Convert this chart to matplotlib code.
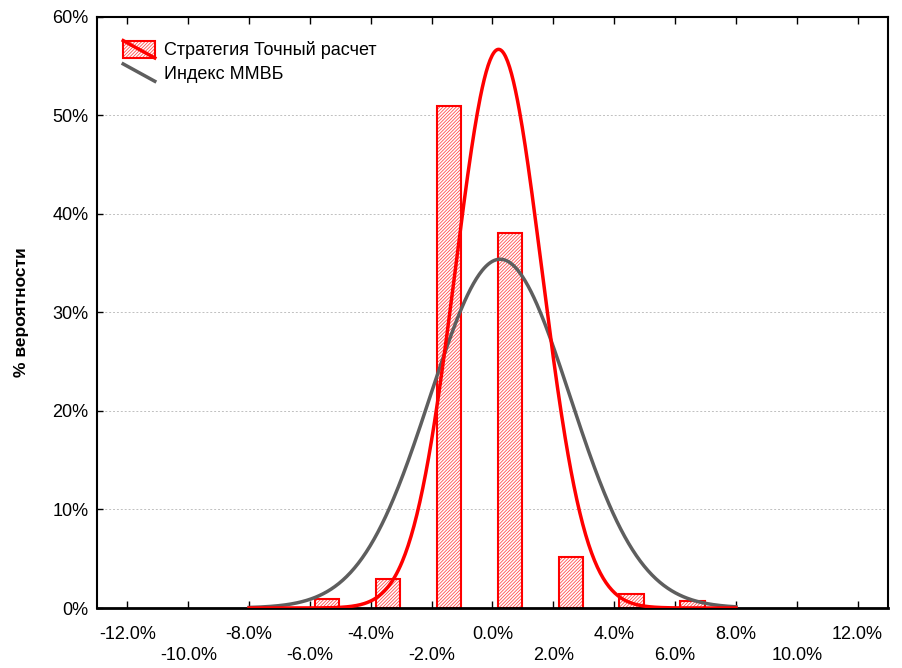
import numpy as np
import matplotlib
matplotlib.use('Agg')
import matplotlib.pyplot as plt
from matplotlib.legend_handler import HandlerBase
from matplotlib.lines import Line2D
from matplotlib.patches import Rectangle, Patch

plt.rcParams['font.family'] = ['Liberation Sans', 'DejaVu Sans']
plt.rcParams['hatch.linewidth'] = 0.6

# Гистограмма стратегии (центры интервалов, % и частоты, %)
centrosBarras = [-5.43, -3.43, -1.43, 0.57, 2.57, 4.57, 6.57]
alturasBarras = [0.95, 2.95, 50.9, 38.1, 5.2, 1.4, 0.75]
anchoBarra = 0.8

# Параметры нормальных кривых (среднее, ст. откл., пик)
estrategiaMedia, estrategiaSigma, estrategiaPico = 0.2, 1.42, 56.7
indiceMedia, indiceSigma, indicePico = 0.25, 2.3, 35.4
rangoCurva = (-8, 8)

ticksX = [-12, -10, -8, -6, -4, -2, 0, 2, 4, 6, 8, 10, 12]
ticksY = [0, 10, 20, 30, 40, 50, 60]

nombreEstrategia = 'Стратегия Точный расчет'
nombreIndice = 'Индекс ММВБ'
etiquetaY = '% вероятности'

rojo = '#ff0000'
rosa = '#ff5050'
gris = '#5e5e5e'
patron = '/' * 10


class HandlerDiagonal(HandlerBase):
    def __init__(self, color, conCaja=False):
        super().__init__()
        self.color = color
        self.conCaja = conCaja

    def create_artists(self, legend, orig_handle, xdescent, ydescent,
                       width, height, fontsize, trans):
        x0, x1 = -xdescent, width - xdescent
        y0, y1 = -ydescent, height - ydescent
        artistas = []
        if self.conCaja:
            artistas.append(Rectangle((x0, y0), width, height, facecolor='white',
                                      edgecolor=rosa, hatch=patron, lw=0,
                                      transform=trans))
            artistas.append(Rectangle((x0, y0), width, height, facecolor='none',
                                      edgecolor=rojo, lw=1.5, transform=trans))
        artistas.append(Line2D([x0, x1], [y1, y0], color=self.color, lw=2.5,
                               transform=trans))
        return artistas


def curva(media, sigma, pico, x):
    return pico * np.exp(-0.5 * ((x - media) / sigma) ** 2)


fig = plt.figure(figsize=(9.03, 6.68), dpi=100)
ax = fig.add_axes([0.1074, 0.0898, 0.876, 0.885])

ax.yaxis.grid(True, linestyle=(0, (2, 2)), color='#c0c0c0', lw=0.7)
ax.set_axisbelow(True)

# relleno rayado (color más claro) y contorno rojo
ax.bar(centrosBarras, alturasBarras, width=anchoBarra, facecolor='white',
       edgecolor=rosa, hatch=patron, lw=0, zorder=2)
ax.bar(centrosBarras, alturasBarras, width=anchoBarra, facecolor='none',
       edgecolor=rojo, lw=1.5, zorder=2)

xs = np.linspace(rangoCurva[0], rangoCurva[1], 500)
ax.plot(xs, curva(indiceMedia, indiceSigma, indicePico, xs), color=gris, lw=2.5, zorder=3)
ax.plot(xs, curva(estrategiaMedia, estrategiaSigma, estrategiaPico, xs), color=rojo, lw=2.5, zorder=4)

ax.set_xlim(-13, 13)
ax.set_ylim(0, 60)
ax.set_xticks(ticksX)
etiquetasX = []
for i, t in enumerate(ticksX):
    s = f'{t:.1f}%'
    etiquetasX.append(s if i % 2 == 0 else '\n' + s)
ax.set_xticklabels(etiquetasX, fontsize=13, linespacing=1.3)
ax.set_yticks(ticksY)
ax.set_yticklabels([f'{t}%' for t in ticksY], fontsize=13)
ax.tick_params(axis='x', direction='in', top=True, length=5, width=1, pad=13)
ax.tick_params(axis='y', direction='in', length=4, width=1, pad=6)
for lado in ['top', 'left', 'right']:
    ax.spines[lado].set_linewidth(1.5)
ax.spines['bottom'].set_linewidth(2)

ax.set_ylabel(etiquetaY, fontsize=12.5, fontweight='bold', labelpad=17)

proxyBarra = Patch()
proxyLinea = Line2D([], [])
ax.legend([proxyBarra, proxyLinea], [nombreEstrategia, nombreIndice],
          handler_map={proxyBarra: HandlerDiagonal(rojo, conCaja=True),
                       proxyLinea: HandlerDiagonal(gris)},
          loc='upper left', bbox_to_anchor=(0.024, 0.972), frameon=False,
          fontsize=13, handlelength=1.75, handleheight=1.1, labelspacing=0.25,
          handletextpad=0.5, borderaxespad=0)

fig.savefig('out.png', dpi=100)
